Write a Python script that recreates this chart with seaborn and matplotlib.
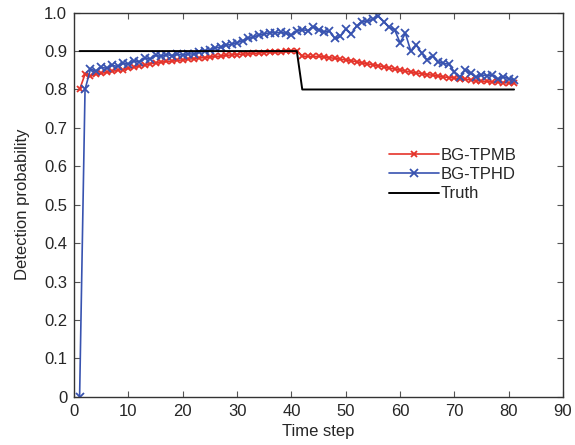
import numpy as np
import pandas as pd
import matplotlib
matplotlib.use("Agg")
import matplotlib.pyplot as plt
import seaborn as sns

time_steps = list(range(1, 82))

tpmb = [0.800, 0.840, 0.835, 0.840, 0.842, 0.845, 0.847, 0.850, 0.852, 0.855,
        0.858, 0.861, 0.864, 0.867, 0.869, 0.871, 0.873, 0.874, 0.876, 0.877,
        0.879, 0.880, 0.882, 0.883, 0.885, 0.886, 0.887, 0.889, 0.890, 0.891,
        0.892, 0.893, 0.894, 0.895, 0.896, 0.897, 0.897, 0.898, 0.899, 0.900,
        0.901, 0.887, 0.886, 0.886, 0.886, 0.885, 0.883, 0.881, 0.879, 0.877,
        0.875, 0.872, 0.869, 0.867, 0.864, 0.862, 0.859, 0.856, 0.853, 0.851,
        0.848, 0.845, 0.843, 0.841, 0.839, 0.837, 0.835, 0.833, 0.831, 0.830,
        0.828, 0.827, 0.825, 0.823, 0.822, 0.821, 0.820, 0.819, 0.818, 0.817,
        0.816]

tphd = [0.000, 0.800, 0.853, 0.848, 0.858, 0.855, 0.863, 0.860, 0.868, 0.866,
        0.875, 0.872, 0.882, 0.879, 0.889, 0.886, 0.891, 0.888, 0.892, 0.889,
        0.893, 0.892, 0.897, 0.900, 0.903, 0.908, 0.911, 0.915, 0.918, 0.922,
        0.927, 0.933, 0.936, 0.942, 0.944, 0.948, 0.947, 0.949, 0.946, 0.941,
        0.953, 0.956, 0.953, 0.964, 0.955, 0.950, 0.952, 0.933, 0.938, 0.957,
        0.945, 0.965, 0.977, 0.978, 0.983, 0.991, 0.977, 0.962, 0.956, 0.922,
        0.946, 0.899, 0.916, 0.894, 0.877, 0.887, 0.872, 0.868, 0.866, 0.846,
        0.832, 0.851, 0.842, 0.832, 0.838, 0.836, 0.838, 0.827, 0.833, 0.828,
        0.826]

truth = [0.9] * 41 + [0.8] * 40

x_ticks = [0, 10, 20, 30, 40, 50, 60, 70, 80, 90]
y_ticks = [0, 0.1, 0.2, 0.3, 0.4, 0.5, 0.6, 0.7, 0.8, 0.9, 1.0]
y_tick_labels = ["0", "0.1", "0.2", "0.3", "0.4", "0.5", "0.6", "0.7", "0.8", "0.9", "1.0"]

sns.set_style("ticks")
plt.rcParams['font.family'] = ['Liberation Sans', 'DejaVu Sans']

fig = plt.figure(figsize=(5.75, 4.45), dpi=100)
ax = fig.add_axes([0.129, 0.1085, 0.850, 0.863])

red = "#e5332a"
blue = "#3853b0"

sns.lineplot(x=time_steps, y=tpmb, ax=ax, color=red, marker="x", markersize=5,
             markeredgewidth=1.3, markeredgecolor=red, linewidth=1.2,
             label="BG-TPMB")
sns.lineplot(x=time_steps, y=tphd, ax=ax, color=blue, marker="x", markersize=6,
             markeredgewidth=1.3, markeredgecolor=blue, linewidth=1.2,
             label="BG-TPHD")
sns.lineplot(x=time_steps, y=truth, ax=ax, color="black", linewidth=1.4, label="Truth")

ax.set_xlim(0, 90)
ax.set_ylim(0, 1.0)
ax.set_xticks(x_ticks)
ax.set_yticks(y_ticks)
ax.set_yticklabels(y_tick_labels)
ax.tick_params(direction="in", top=True, right=True, labelsize=12, length=4,
               width=0.8, color="#555555", pad=5)
for s in ax.spines.values():
    s.set_linewidth(1.0)
    s.set_color("#333333")
ax.set_xlabel("Time step", fontsize=12, labelpad=4)
ax.set_ylabel("Detection probability", fontsize=12, labelpad=10)

leg = ax.legend(loc="upper left", bbox_to_anchor=(0.63, 0.665), frameon=False,
                fontsize=12, handlelength=3.0, handletextpad=0.1,
                labelspacing=0.25, borderaxespad=0)

fig.savefig("out.png", dpi=100)
